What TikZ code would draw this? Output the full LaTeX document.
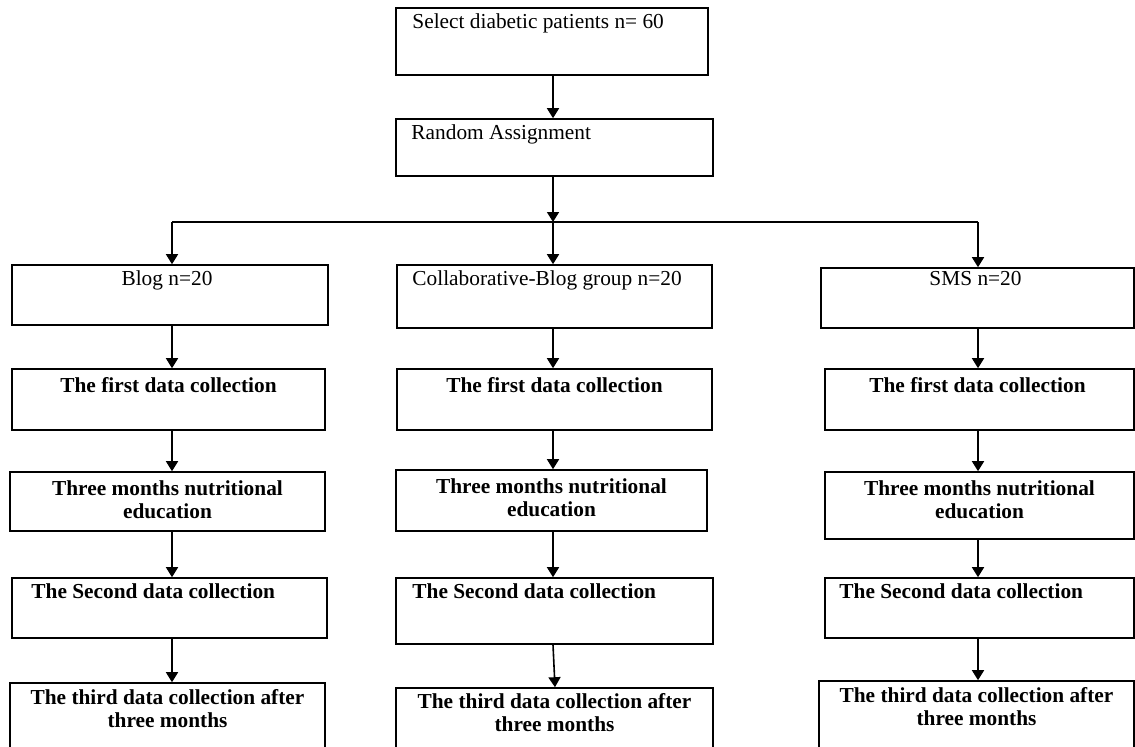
\documentclass[tikz,border=0pt]{standalone}
\usepackage{fontspec}
\setmainfont{Liberation Serif}
\usetikzlibrary{arrows.meta,fit}
\begin{document}
\begin{tikzpicture}[x=0.75pt,y=-0.75pt,
  box/.style={draw, line width=1.2pt, inner sep=0pt, rectangle},
  txt/.style={inner sep=0pt, font=\fontsize{16}{17.25}\selectfont, align=center},
  btxt/.style={inner sep=0pt, font=\bfseries\fontsize{16}{17.25}\selectfont, align=center},
  arr/.style={line width=1.2pt, -{Triangle[width=9pt,length=7.5pt]}},
  link/.style={line width=1.2pt}]
\clip (0,0) rectangle (1135,746);
\fill[white] (0,0) rectangle (1135,746);
% boxes
\node[box, fit={(396,8) (708,75)}] (top) {};
\node[box, fit={(396,119) (713,176)}] (rand) {};
\node[box, fit={(12,265) (328,325)}] (blog) {};
\node[box, fit={(397,265) (712,328)}] (collab) {};
\node[box, fit={(821,268) (1134,328)}] (sms) {};
\node[box, fit={(12,369) (325,430)}] (L1) {};
\node[box, fit={(397,369) (712,430)}] (M1) {};
\node[box, fit={(825,369) (1134,430)}] (R1) {};
\node[box, fit={(10,472) (325,531)}] (L2) {};
\node[box, fit={(396,470) (707,531)}] (M2) {};
\node[box, fit={(825,472) (1134,539)}] (R2) {};
\node[box, fit={(12,578) (327,638)}] (L3) {};
\node[box, fit={(396,578) (713,644)}] (M3) {};
\node[box, fit={(825,578) (1134,638)}] (R3) {};
\node[box, fit={(10,683) (325,770)}] (L4) {};
\node[box, fit={(396,688) (713,770)}] (M4) {};
\node[box, fit={(819,681) (1134,770)}] (R4) {};
% texts
\node[txt, anchor=base west] (ttop) at ([shift={(17,21)}]top.north west) {Select diabetic patients n= 60};
\node[txt, anchor=base west] (trand) at ([shift={(16,21)}]rand.north west) {Random Assignment};
\node[txt, anchor=base] (tblog) at ([shift={(-3,21)}]blog.north) {Blog n=20};
\node[txt, anchor=base west] (tcollab) at ([shift={(16,21)}]collab.north west) {Collaborative-Blog group n=20};
\node[txt, anchor=base] (tsms) at ([shift={(-2,18)}]sms.north) {SMS n=20};
\foreach \b/\dx in {L1/0,M1/0,R1/-2}{
  \node[btxt, anchor=base] (t\b) at ([shift={(\dx,24)}]\b.north) {The first data collection};
}
\foreach \b/\dx in {L2/0,M2/0,R2/0}{
  \node[btxt, anchor=north] (t\b) at ([shift={(\dx,9)}]\b.north) {Three months nutritional\\education};
}
\foreach \b/\dx in {L3/20,M3/17,R3/15}{
  \node[btxt, anchor=base west] (t\b) at ([shift={(\dx,21)}]\b.north west) {The Second data collection};
}
\foreach \b/\dy in {L4/7,M4/6,R4/7}{
  \node[btxt, anchor=north] (t\b) at ([shift={(0,\dy)}]\b.north) {The third data collection after\\three months};
}
% connectors
\coordinate (split) at (553,222);
\coordinate (hl) at (172,222);
\coordinate (hr) at (978,222);
\draw[arr] (top.south -| split) -- (split |- rand.north);
\draw[link] (hl) -- (hr);
\draw[arr] (rand.south -| split) -- (split);
\draw[arr] (split) -- (split |- collab.north);
\draw[arr] (hl) -- (hl |- blog.north);
\draw[arr] (hr) -- (hr |- sms.north);
\draw[arr] (blog.south -| hl) -- (hl |- L1.north);
\draw[arr] (L1.south -| hl) -- (hl |- L2.north);
\draw[arr] (L2.south -| hl) -- (hl |- L3.north);
\draw[arr] (L3.south -| hl) -- (hl |- L4.north);
\draw[arr] (collab.south -| split) -- (split |- M1.north);
\draw[arr] (M1.south -| split) -- (split |- M2.north);
\draw[arr] (M2.south -| split) -- (split |- M3.north);
\draw[arr] (M3.south -| split) -- ([xshift=1.5pt]split |- M4.north);
\draw[arr] (sms.south -| hr) -- (hr |- R1.north);
\draw[arr] (R1.south -| hr) -- (hr |- R2.north);
\draw[arr] (R2.south -| hr) -- (hr |- R3.north);
\draw[arr] (R3.south -| hr) -- (hr |- R4.north);
\end{tikzpicture}
\end{document}
